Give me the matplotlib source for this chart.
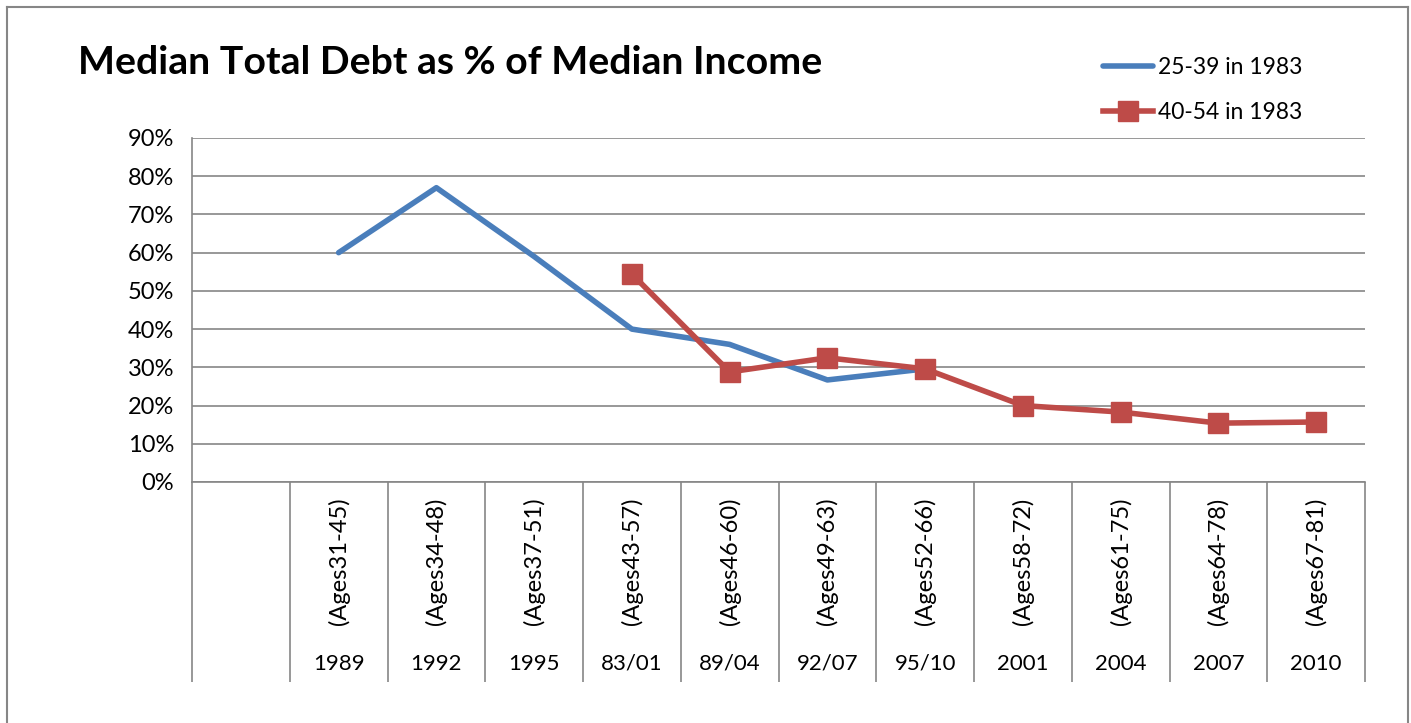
import numpy as np
import matplotlib
matplotlib.use("Agg")
import matplotlib.pyplot as plt
from matplotlib.lines import Line2D

plt.rcParams['font.family'] = ['Lato', 'DejaVu Sans']

# category axis: first slot is empty in the original chart
years = ["", "1989", "1992", "1995", "83/01", "89/04", "92/07", "95/10",
         "2001", "2004", "2007", "2010"]
ages = ["", "(Ages31-45)", "(Ages34-48)", "(Ages37-51)", "(Ages43-57)", "(Ages46-60)",
        "(Ages49-63)", "(Ages52-66)", "(Ages58-72)", "(Ages61-75)", "(Ages64-78)",
        "(Ages67-81)"]

nan = np.nan
young = [nan, 0.60, 0.77, 0.59, 0.40, 0.36, 0.267, 0.296, nan, nan, nan, nan]
older = [nan, nan, nan, nan, 0.544, 0.288, 0.325, 0.296, 0.20, 0.183, 0.154, 0.157]
yticks = [0, 0.1, 0.2, 0.3, 0.4, 0.5, 0.6, 0.7, 0.8, 0.9]

W, H = 1411, 723
fig = plt.figure(figsize=(W / 100, H / 100), dpi=100)
ax = fig.add_axes([192 / W, 1 - 482 / H, (1365 - 192) / W, (482 - 138) / H])

blue = "#4A7EBB"
red = "#BE4B48"
grey = "#868686"

x = np.arange(len(years)) + 0.5
ax.plot(x, young, color=blue, lw=4, solid_capstyle="round", label="25-39 in 1983", zorder=3)
ax.plot(x, older, color=red, lw=4, marker="s", markersize=14, label="40-54 in 1983", zorder=4)

ax.set_xlim(0, len(years))
ax.set_ylim(0, 0.9)
ax.set_yticks(yticks)
ax.set_yticklabels(["{}%".format(int(round(t * 100))) for t in yticks], fontsize=17)
ax.tick_params(axis="y", length=0, pad=13)
ax.set_xticks([])
ax.grid(axis="y", color=grey, lw=1.2)
ax.set_axisbelow(True)
for s in ["top", "right"]:
    ax.spines[s].set_visible(False)
for s in ["left", "bottom"]:
    ax.spines[s].set_color(grey)
    ax.spines[s].set_linewidth(1.2)

# table-like category axis below the plot
tr = ax.get_xaxis_transform()
bottom = -(682 - 482) / (482 - 138)
ax.vlines(np.arange(len(years) + 1), bottom, 0, color=grey, lw=1.2,
          transform=tr, clip_on=False)
for xi, a, y in zip(x, ages, years):
    ax.text(xi, -(561 - 482) / 344, a, rotation=90, ha="center", va="center",
            fontsize=17, transform=tr)
    ax.text(xi, -(664 - 482) / 344, y, ha="center", va="center", fontsize=16, transform=tr)

fig.text(78 / W, 1 - 62 / H, "Median Total Debt as % of Median Income",
         fontsize=28.3, fontweight="bold", ha="left", va="center")

leg = ax.legend(loc="upper left", bbox_to_anchor=(1082 / W, 1 - 36 / H),
                bbox_transform=fig.transFigure, frameon=False, fontsize=16.5,
                handlelength=2.2, handletextpad=0.2, labelspacing=1.05)

# outer chart border
fig.add_artist(Line2D([7 / W, 7 / W], [0, 1 - 7 / H], color=grey, lw=1.5))
fig.add_artist(Line2D([7 / W, 1408 / W], [1 - 7 / H, 1 - 7 / H], color=grey, lw=1.5))
fig.add_artist(Line2D([1408 / W, 1408 / W], [0, 1 - 7 / H], color=grey, lw=1.5))

fig.savefig("out.png", dpi=100)
